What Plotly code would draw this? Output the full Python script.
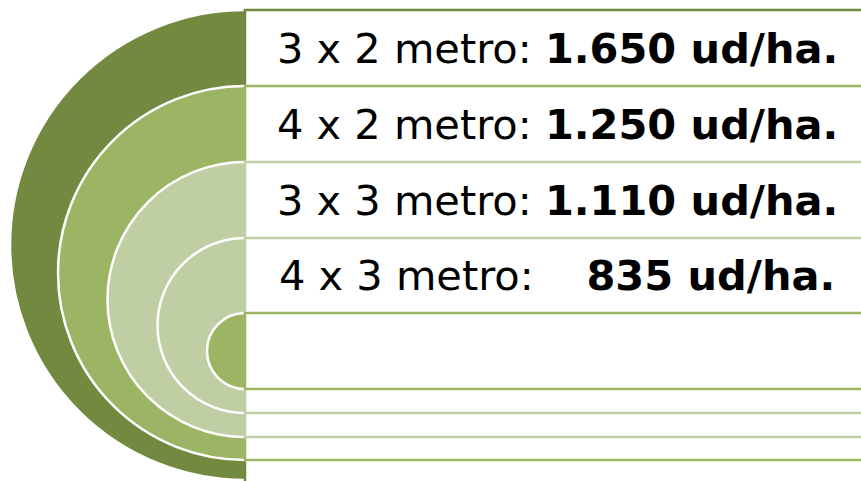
import plotly.graph_objects as go

# Data
spacings = ["3 x 2", "4 x 2", "3 x 3", "4 x 3"]
densities = ["1.650", "1.250", "1.110", "835"]
unit = "ud/ha."

# Layout geometry (pixels) for nested target diagram
W, H = 861, 481
CX = 245
ring_tops = [10, 86, 162, 238, 313]
ring_bottoms = [480, 460, 437, 413, 389]
ring_colors = ["#72893F", "#9BB565", "#BFCFA3", "#BFCFA3", "#9BB565"]
line_colors = ["#72893F", "#9BB565", "#BFCFA3", "#BFCFA3", "#9BB565"]
TEXT_X = 557

shapes = []
for i, (t, b, fc, lc) in enumerate(zip(ring_tops, ring_bottoms, ring_colors, line_colors)):
    r = (b - t) / 2
    cy = (t + b) / 2
    shapes.append(dict(type="circle", xref="x", yref="y",
                       x0=CX - r, x1=CX + r, y0=cy - r, y1=cy + r,
                       fillcolor=fc, line=dict(color="white", width=2.5),
                       layer="above"))
    shapes.append(dict(type="rect", xref="x", yref="y",
                       x0=CX, x1=W + 30, y0=t, y1=(b if i else b + 6),
                       fillcolor="white", line=dict(color=lc, width=2.5),
                       layer="above"))

annotations = []
for i, (s, d) in enumerate(zip(spacings, densities)):
    yc = (ring_tops[i] + ring_tops[i + 1]) / 2
    pad = "" if "." in d else "\u00a0\u00a0\u00a0"
    txt = f"{s} metro:{pad} <b>{d} {unit}</b>"
    annotations.append(dict(x=TEXT_X, y=yc, xref="x", yref="y", text=txt,
                            showarrow=False, xanchor="center", yanchor="middle",
                            font=dict(family="DejaVu Sans", size=41.5, color="black")))

fig = go.Figure()
fig.add_trace(go.Scatter(x=[0, W], y=[0, H], mode="markers",
                         marker=dict(opacity=0), hoverinfo="skip", showlegend=False))
fig.update_layout(
    width=W, height=H, margin=dict(l=0, r=0, t=0, b=0),
    paper_bgcolor="white", plot_bgcolor="white",
    xaxis=dict(range=[0, W], visible=False, fixedrange=True),
    yaxis=dict(range=[H, 0], visible=False, fixedrange=True),
    shapes=shapes, annotations=annotations, showlegend=False,
)
fig.write_html(
    "out.html",
    config={"displayModeBar": False},
    post_script="document.body.style.margin='0';document.body.style.overflow='hidden';",
)
